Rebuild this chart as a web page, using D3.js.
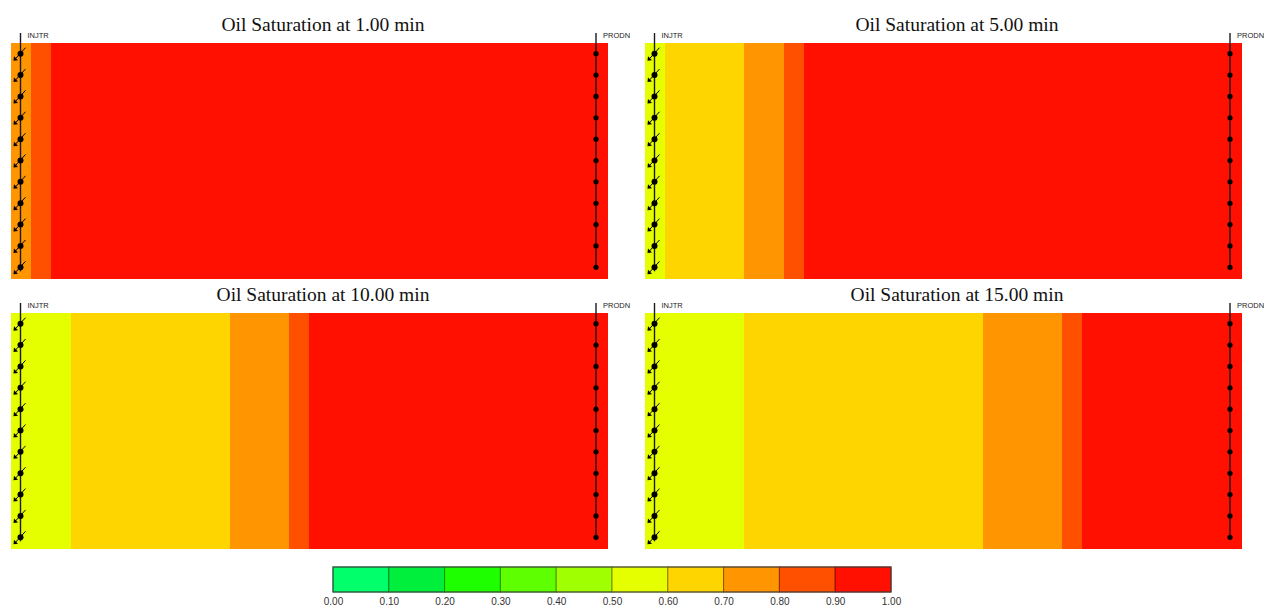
<!DOCTYPE html>
<html>
<head>
<meta charset="utf-8">
<script src="https://cdn.jsdelivr.net/npm/d3@7"></script>
<style>
  html, body { margin: 0; padding: 0; background: #fff; }
  svg { display: block; }
</style>
</head>
<body>
<svg id="chart" width="1264" height="608"></svg>
<script>
// ---------------- data ----------------
const times = [1.00, 5.00, 10.00, 15.00];
const wellNames = ["INJTR", "PRODN"];
const layers = [1, 2, 3, 4, 5, 6, 7, 8, 9, 10, 11];
// oil saturation per grid column (30 columns, injector -> producer), identical in every layer
const soT1  = [0.76, 0.85, 0.95, 0.95, 0.95, 0.95, 0.95, 0.95, 0.95, 0.95, 0.95, 0.95, 0.95, 0.95, 0.95, 0.95, 0.95, 0.95, 0.95, 0.95, 0.95, 0.95, 0.95, 0.95, 0.95, 0.95, 0.95, 0.95, 0.95, 0.95];
const soT5  = [0.56, 0.64, 0.65, 0.66, 0.68, 0.74, 0.78, 0.86, 0.95, 0.95, 0.95, 0.95, 0.95, 0.95, 0.95, 0.95, 0.95, 0.95, 0.95, 0.95, 0.95, 0.95, 0.95, 0.95, 0.95, 0.95, 0.95, 0.95, 0.95, 0.95];
const soT10 = [0.54, 0.57, 0.59, 0.62, 0.63, 0.64, 0.65, 0.66, 0.67, 0.68, 0.69, 0.72, 0.75, 0.78, 0.86, 0.95, 0.95, 0.95, 0.95, 0.95, 0.95, 0.95, 0.95, 0.95, 0.95, 0.95, 0.95, 0.95, 0.95, 0.95];
const soT15 = [0.53, 0.55, 0.57, 0.58, 0.59, 0.61, 0.62, 0.63, 0.64, 0.64, 0.65, 0.66, 0.66, 0.67, 0.68, 0.69, 0.69, 0.71, 0.73, 0.76, 0.79, 0.86, 0.95, 0.95, 0.95, 0.95, 0.95, 0.95, 0.95, 0.95];
const saturations = [soT1, soT5, soT10, soT15];
const legendTicks = [0.0, 0.1, 0.2, 0.3, 0.4, 0.5, 0.6, 0.7, 0.8, 0.9, 1.0];
const legendColors = ["#00ff6a", "#00ef3c", "#1eff00", "#5eff00", "#a0ff00", "#e5ff00", "#ffd500", "#ff9500", "#ff5000", "#ff1000"];

// ---------------- layout ----------------
const svg = d3.select("#chart");
const panelW = 596, panelH = 235;
const panelOrigins = [[11, 43], [645, 43], [11, 313], [645, 313]];

const color = d3.scaleThreshold()
  .domain(legendTicks.slice(1, -1))
  .range(legendColors);

const colScale = d3.scaleBand().domain(d3.range(soT1.length)).range([0, panelW]);
const layerScale = d3.scaleBand().domain(layers).range([0, panelH]);

saturations.forEach((so, i) => {
  const [ox, oy] = panelOrigins[i];
  const g = svg.append("g").attr("transform", `translate(${ox},${oy})`);

  // cells
  layers.forEach(L => {
    g.append("g").selectAll("rect")
      .data(so)
      .join("rect")
      .attr("x", (d, j) => colScale(j))
      .attr("y", layerScale(L))
      .attr("width", colScale.bandwidth() + 0.5)
      .attr("height", layerScale.bandwidth() + 0.5)
      .attr("fill", d => color(d))
      .attr("shape-rendering", "crispEdges");
  });

  // title
  g.append("text")
    .attr("x", panelW / 2 + 14)
    .attr("y", -12)
    .attr("text-anchor", "middle")
    .attr("font-family", "'Liberation Serif', 'Times New Roman', serif")
    .attr("font-size", 19.5)
    .attr("fill", "#111")
    .text(`Oil Saturation at ${times[i].toFixed(2)} min`);

  // wells
  const injX = colScale(0) + 9.5;
  const prodX = colScale(so.length - 1) + colScale.bandwidth() - 11;
  const topY = -10;
  const lastY = layerScale(layers[layers.length - 1]) + layerScale.bandwidth() / 2;

  // injector
  g.append("line").attr("x1", injX).attr("x2", injX).attr("y1", topY).attr("y2", lastY + 4)
    .attr("stroke", "#1a1a1a").attr("stroke-width", 1.4);
  g.append("text").attr("x", injX + 7).attr("y", topY + 5)
    .attr("font-family", "'Liberation Sans', Arial, sans-serif").attr("font-size", 7.5)
    .attr("fill", "#222").text(wellNames[0]);
  const inj = g.append("g").selectAll("g").data(layers).join("g")
    .attr("transform", L => `translate(${injX},${layerScale(L) + layerScale.bandwidth() / 2})`);
  inj.append("circle").attr("r", 3).attr("fill", "#000");
  inj.append("line").attr("x1", 5).attr("y1", -6).attr("x2", -5).attr("y2", 5)
    .attr("stroke", "#000").attr("stroke-width", 1);
  inj.append("path").attr("d", "M-7,7 L-6.5,2.5 L-2.5,6.5 Z").attr("fill", "#000");

  // producer
  g.append("line").attr("x1", prodX).attr("x2", prodX).attr("y1", topY).attr("y2", lastY)
    .attr("stroke", "#1a1a1a").attr("stroke-width", 1.4);
  g.append("text").attr("x", prodX + 7).attr("y", topY + 5)
    .attr("font-family", "'Liberation Sans', Arial, sans-serif").attr("font-size", 7.5)
    .attr("fill", "#222").text(wellNames[1]);
  g.append("g").selectAll("circle").data(layers).join("circle")
    .attr("cx", prodX)
    .attr("cy", L => layerScale(L) + layerScale.bandwidth() / 2)
    .attr("r", 2.6).attr("fill", "#000");
});

// ---------------- legend ----------------
const legX = d3.scaleLinear().domain([0, 1]).range([333, 891]);
const legY = 567, legH = 25;
const leg = svg.append("g");
leg.selectAll("rect").data(legendColors).join("rect")
  .attr("x", (d, i) => legX(legendTicks[i]))
  .attr("y", legY)
  .attr("width", (d, i) => legX(legendTicks[i + 1]) - legX(legendTicks[i]))
  .attr("height", legH)
  .attr("fill", d => d)
  .attr("stroke", d => d3.color(d).darker(1.6))
  .attr("stroke-width", 1);
leg.append("rect").attr("x", legX(0)).attr("y", legY).attr("width", legX(1) - legX(0)).attr("height", legH)
  .attr("fill", "none").attr("stroke", "#444").attr("stroke-width", 1);

const axis = d3.axisBottom(legX).tickValues(legendTicks).tickFormat(d3.format(".2f")).tickSize(0).tickPadding(0);
const ax = svg.append("g").attr("transform", `translate(0,${legY + legH + 6})`).call(axis);
ax.select(".domain").remove();
ax.selectAll("text")
  .attr("font-family", "'Liberation Sans', Arial, sans-serif")
  .attr("font-size", 10)
  .attr("fill", "#333");
</script>
</body>
</html>
